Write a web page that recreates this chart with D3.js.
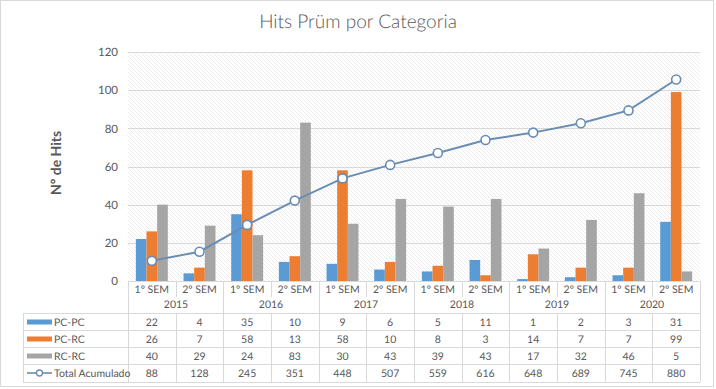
<!DOCTYPE html>
<html><head><meta charset="utf-8">
<script src="https://cdn.jsdelivr.net/npm/d3@7"></script>
<style>
html,body{margin:0;padding:0;background:#fff;}
svg{display:block;}
svg text{font-family:Lato,"Liberation Sans",sans-serif;text-rendering:geometricPrecision;}
</style></head>
<body><svg id="c" width="716" height="389"></svg>
<script>
const years = ["2015","2016","2017","2018","2019","2020"];
const semesters = ["1º SEM","2º SEM"];
const categories = years.flatMap(y => semesters.map(s => y + " " + s));
const seriesNames = ["PC-PC","PC-RC","RC-RC"];
const pcpc = [22,4,35,10,9,6,5,11,1,2,3,31];
const pcrc = [26,7,58,13,58,10,8,3,14,7,7,99];
const rcrc = [40,29,24,83,30,43,39,43,17,32,46,5];
const totalAcumulado = [88,128,245,351,448,507,559,616,648,689,745,880];
const lineName = "Total Acumulado";
const yTicks = [0,20,40,60,80,100,120];
const colors = ["#5b9bd5","#ed7d31","#a5a5a5"];
const lineColor = "#6a8db3";
const txt = "#595959", grid = "#d9d9d9";

const svg = d3.select("#c");
const L = 128, R = 700, T = 52, B = 281;

svg.append("rect").attr("x",0.5).attr("y",0.5).attr("width",713).attr("height",386)
  .attr("fill","#fff").attr("stroke","#d9d9d9");

const defs = svg.append("defs");
const pat = defs.append("pattern").attr("id","hatch").attr("patternUnits","userSpaceOnUse")
  .attr("width",4).attr("height",4);
pat.append("rect").attr("width",4).attr("height",4).attr("fill","#fff");
pat.append("path").attr("d","M-1,-1L5,5M-1,3L1,5M3,-1L5,1").attr("stroke","#e9e9e9").attr("stroke-width",0.8);

const x = d3.scaleBand().domain(d3.range(categories.length)).range([L,R]).padding(0);
const bw = x.bandwidth();
const xs = d3.scaleBand().domain(seriesNames).range([bw*0.165, bw*0.835]).padding(0);
const y = d3.scaleLinear().domain([0,120]).range([B,T]);
const y2 = d3.scaleLinear().domain([0,1000]).range([B,T]);

svg.append("rect").attr("x",L).attr("y",T).attr("width",R-L).attr("height",B-T).attr("fill","url(#hatch)");

svg.append("g").selectAll("line").data(yTicks).join("line")
  .attr("x1",L).attr("x2",R).attr("y1",d=>Math.round(y(d))+0.5).attr("y2",d=>Math.round(y(d))+0.5)
  .attr("stroke",grid).attr("stroke-width",1);

const ya = svg.append("g").attr("transform",`translate(${L-10},0)`)
  .call(d3.axisLeft(y).tickValues(yTicks).tickSize(0).tickPadding(0));
ya.select(".domain").remove();
ya.attr("font-family",null).attr("font-size",null);
ya.selectAll("text").attr("fill",txt).attr("font-size",11.5);

svg.append("text").attr("transform","translate(61,163) rotate(-90)").attr("text-anchor","middle")
  .attr("fill",txt).attr("font-size",14).attr("font-weight","bold").text("Nº de Hits");

svg.append("text").attr("x",358).attr("y",28).attr("text-anchor","middle").attr("fill",txt)
  .attr("font-size",19).attr("font-weight",300).text("Hits Prüm por Categoria");

const data = [pcpc,pcrc,rcrc];
seriesNames.forEach((s,si)=>{
  svg.append("g").selectAll("rect").data(data[si]).join("rect")
    .attr("x",(d,i)=>x(i)+xs(s)).attr("width",xs.bandwidth())
    .attr("y",d=>y(d)).attr("height",d=>B-y(d)).attr("fill",colors[si]);
});

const line = d3.line().x((d,i)=>x(i)+bw/2).y(d=>y2(d));
svg.append("path").datum(totalAcumulado).attr("d",line).attr("fill","none")
  .attr("stroke",lineColor).attr("stroke-width",2);
svg.append("g").selectAll("circle").data(totalAcumulado).join("circle")
  .attr("cx",(d,i)=>x(i)+bw/2).attr("cy",d=>y2(d)).attr("r",4.5)
  .attr("fill","#fff").attr("stroke",lineColor).attr("stroke-width",1.6);

const tb = svg.append("g");
const rowLines = [313,330,347,364,382];
const TL = 23;
tb.append("line").attr("x1",L).attr("x2",R).attr("y1",B+0.5).attr("y2",B+0.5).attr("stroke",grid);
rowLines.forEach(ry=>{
  tb.append("line").attr("x1",TL).attr("x2",R).attr("y1",ry+0.5).attr("y2",ry+0.5).attr("stroke",grid);
});
tb.append("line").attr("x1",TL+0.5).attr("x2",TL+0.5).attr("y1",313).attr("y2",382).attr("stroke",grid);
d3.range(categories.length+1).forEach(i=>{
  const xx = Math.round(i===categories.length ? R : x(i))+0.5;
  if(i%2===0){
    tb.append("line").attr("x1",xx).attr("x2",xx).attr("y1",B).attr("y2",382).attr("stroke",grid);
  } else {
    tb.append("line").attr("x1",xx).attr("x2",xx).attr("y1",B).attr("y2",297).attr("stroke",grid);
    tb.append("line").attr("x1",xx).attr("x2",xx).attr("y1",313).attr("y2",382).attr("stroke",grid);
  }
});
const fs = 10.5;
categories.forEach((c,i)=>{
  tb.append("text").attr("x",x(i)+bw/2).attr("y",293).attr("text-anchor","middle")
    .attr("fill",txt).attr("font-size",fs).text(semesters[i%2]);
});
years.forEach((yy,j)=>{
  tb.append("text").attr("x",Math.round(x(j*2)+bw)).attr("y",308).attr("text-anchor","middle")
    .attr("fill",txt).attr("font-size",fs).attr("font-weight","normal").text(yy);
});
const rows = [pcpc,pcrc,rcrc,totalAcumulado];
const rowNames = [...seriesNames, lineName];
const rowCy = [322,339,356,373];
rows.forEach((r,ri)=>{
  r.forEach((v,i)=>{
    tb.append("text").attr("x",x(i)+bw/2).attr("y",rowCy[ri]+3.8).attr("text-anchor","middle")
      .attr("fill",txt).attr("font-size",fs).text(v);
  });
  if(ri<3){
    tb.append("rect").attr("x",27).attr("y",rowCy[ri]-2.5).attr("width",25).attr("height",5).attr("fill",colors[ri]);
  } else {
    tb.append("line").attr("x1",27).attr("x2",52).attr("y1",rowCy[ri]).attr("y2",rowCy[ri]).attr("stroke",lineColor).attr("stroke-width",1.6);
    tb.append("circle").attr("cx",39.5).attr("cy",rowCy[ri]).attr("r",3).attr("fill","#fff").attr("stroke",lineColor).attr("stroke-width",1.3);
  }
  tb.append("text").attr("x",54).attr("y",rowCy[ri]+3.8).attr("fill",txt).attr("font-size",fs).text(rowNames[ri]);
});
</script></body></html>
